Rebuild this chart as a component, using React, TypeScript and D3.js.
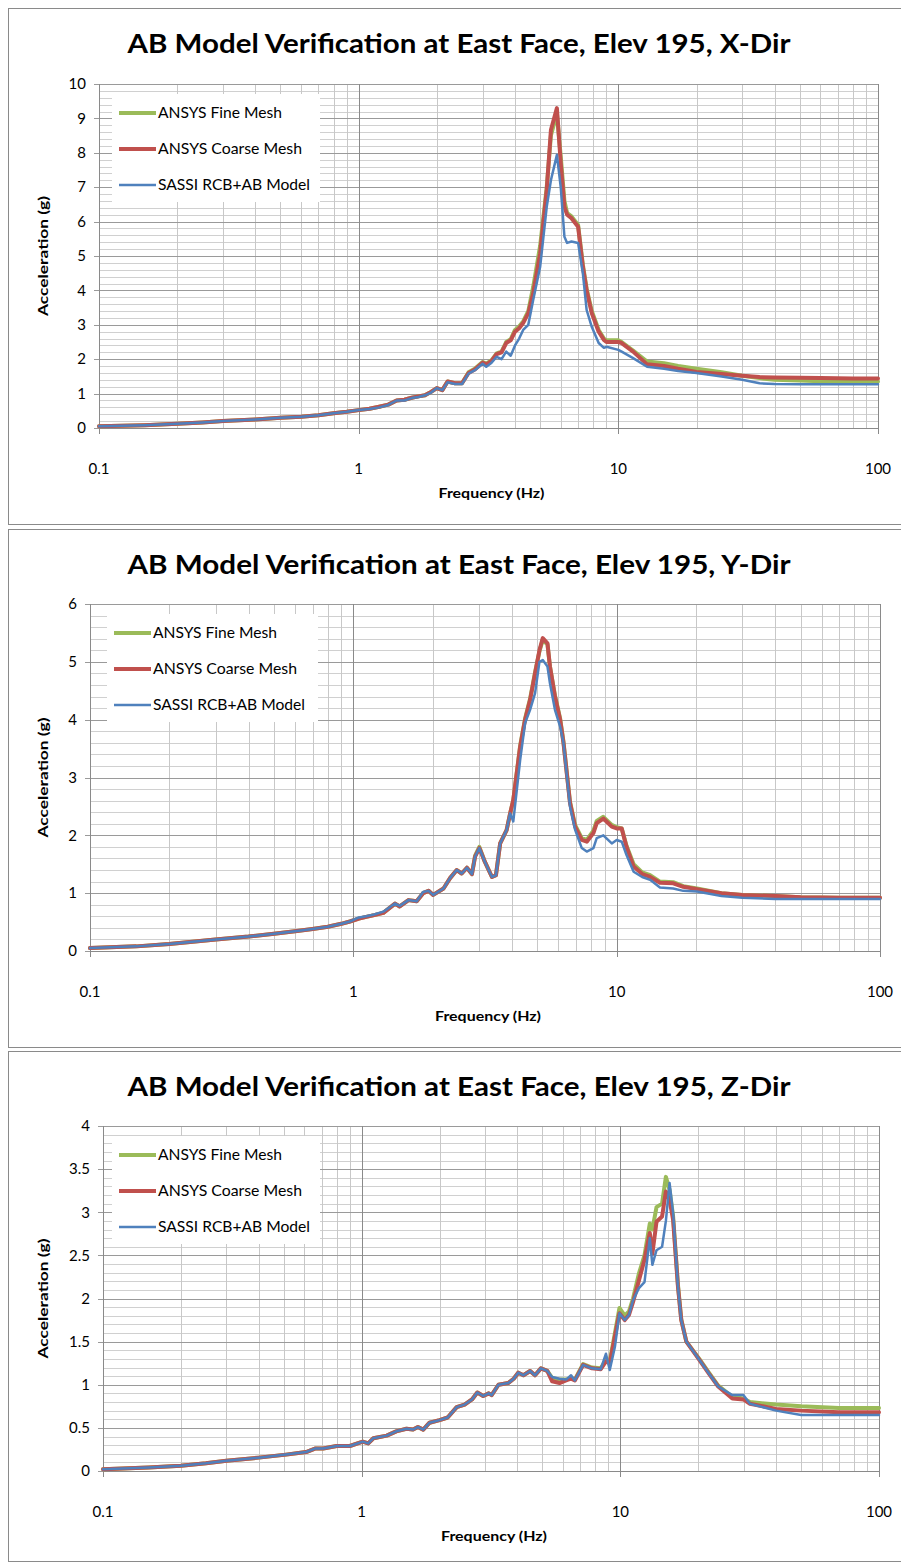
import React from "react";
import * as d3 from "d3";

const SERIES_NAMES = ["ANSYS Fine Mesh", "ANSYS Coarse Mesh", "SASSI RCB+AB Model"];
const SERIES_COLORS = ["#9BBB59", "#C0504D", "#4F81BD"];
const X_TICKS = [0.1, 1, 10, 100];
const X_TICK_LABELS = ["0.1", "1", "10", "100"];

// ---------- X-Dir ----------
const FREQ_X = [0.1, 0.15, 0.2, 0.25, 0.3, 0.4, 0.5, 0.6, 0.7, 0.8, 0.9, 1.0, 1.1, 1.2, 1.3, 1.4, 1.5, 1.6, 1.7, 1.8, 1.9, 2.0, 2.1, 2.2, 2.35, 2.5, 2.65, 2.8, 3.0, 3.1, 3.25, 3.4, 3.55, 3.7, 3.85, 4.0, 4.15, 4.3, 4.5, 4.7, 5.0, 5.3, 5.5, 5.8, 6.0, 6.2, 6.35, 6.6, 7.0, 7.3, 7.55, 7.9, 8.4, 8.8, 9.0, 10, 10.3, 11.4, 12.9, 15, 17, 20, 25, 30, 35, 40, 50, 60, 80, 100];
const X_COARSE = [0.05, 0.08, 0.12, 0.16, 0.2, 0.25, 0.3, 0.33, 0.37, 0.43, 0.47, 0.52, 0.56, 0.62, 0.68, 0.8, 0.82, 0.88, 0.92, 0.95, 1.05, 1.16, 1.1, 1.35, 1.3, 1.3, 1.6, 1.7, 1.9, 1.85, 1.95, 2.15, 2.2, 2.47, 2.55, 2.8, 2.9, 3.05, 3.34, 3.92, 5.08, 6.92, 8.66, 9.3, 7.7, 6.43, 6.2, 6.1, 5.85, 4.69, 4.0, 3.34, 2.8, 2.56, 2.5, 2.5, 2.47, 2.22, 1.85, 1.8, 1.72, 1.63, 1.57, 1.52, 1.48, 1.47, 1.46, 1.45, 1.44, 1.44];
const X_FINE = [0.05, 0.08, 0.12, 0.16, 0.2, 0.25, 0.3, 0.33, 0.37, 0.43, 0.47, 0.52, 0.56, 0.62, 0.68, 0.8, 0.82, 0.88, 0.92, 0.95, 1.05, 1.16, 1.1, 1.35, 1.3, 1.3, 1.62, 1.72, 1.92, 1.87, 1.97, 2.17, 2.22, 2.5, 2.58, 2.85, 2.95, 3.1, 3.4, 4.1, 5.3, 7.0, 8.5, 9.15, 7.9, 6.6, 6.25, 6.15, 5.9, 4.75, 4.05, 3.4, 2.85, 2.6, 2.55, 2.55, 2.5, 2.25, 1.93, 1.88, 1.8, 1.72, 1.62, 1.52, 1.45, 1.4, 1.38, 1.36, 1.35, 1.35];
const X_SASSI = [0.05, 0.08, 0.12, 0.16, 0.2, 0.25, 0.3, 0.33, 0.37, 0.43, 0.47, 0.52, 0.55, 0.6, 0.67, 0.8, 0.8, 0.87, 0.9, 0.95, 1.03, 1.16, 1.1, 1.33, 1.28, 1.28, 1.58, 1.68, 1.87, 1.78, 1.9, 2.07, 2.0, 2.22, 2.1, 2.4, 2.6, 2.85, 3.0, 3.72, 4.69, 6.43, 7.2, 7.94, 7.0, 5.56, 5.38, 5.42, 5.38, 4.5, 3.43, 2.94, 2.47, 2.33, 2.36, 2.27, 2.22, 2.03, 1.78, 1.72, 1.66, 1.6, 1.5, 1.4, 1.3, 1.28, 1.27, 1.27, 1.27, 1.27];

// ---------- Y-Dir ----------
const FREQ_Y = [0.1, 0.15, 0.2, 0.3, 0.4, 0.5, 0.6, 0.7, 0.8, 0.9, 0.97, 1.05, 1.12, 1.2, 1.3, 1.44, 1.5, 1.62, 1.74, 1.84, 1.93, 2.01, 2.2, 2.33, 2.47, 2.58, 2.7, 2.82, 2.9, 3.01, 3.16, 3.36, 3.48, 3.61, 3.82, 3.94, 4.05, 4.3, 4.49, 4.69, 4.9, 5.09, 5.24, 5.46, 5.58, 5.83, 6.1, 6.28, 6.65, 6.95, 7.37, 7.7, 8.16, 8.4, 8.9, 9.58, 10, 10.45, 10.9, 11.6, 12.5, 13.4, 14.6, 16.4, 17.9, 20.2, 25, 30, 40, 50, 70, 100];
const Y_COARSE = [0.05, 0.08, 0.12, 0.2, 0.25, 0.3, 0.34, 0.38, 0.42, 0.47, 0.51, 0.56, 0.59, 0.62, 0.66, 0.82, 0.77, 0.88, 0.86, 1.0, 1.04, 0.97, 1.08, 1.26, 1.4, 1.34, 1.44, 1.33, 1.63, 1.78, 1.54, 1.28, 1.31, 1.86, 2.09, 2.38, 2.61, 3.53, 4.0, 4.34, 4.8, 5.2, 5.41, 5.32, 4.92, 4.4, 4.0, 3.6, 2.56, 2.15, 1.92, 1.89, 2.04, 2.21, 2.29, 2.15, 2.12, 2.12, 1.8, 1.46, 1.33, 1.28, 1.18, 1.17, 1.11, 1.07, 1.0, 0.97, 0.95, 0.93, 0.92, 0.92];
const Y_FINE = [0.05, 0.08, 0.12, 0.2, 0.25, 0.3, 0.34, 0.38, 0.42, 0.47, 0.51, 0.56, 0.59, 0.62, 0.66, 0.82, 0.77, 0.88, 0.86, 1.0, 1.04, 0.97, 1.08, 1.26, 1.4, 1.34, 1.44, 1.33, 1.65, 1.8, 1.54, 1.28, 1.31, 1.86, 2.09, 2.38, 2.61, 3.55, 4.02, 4.36, 4.82, 5.18, 5.38, 5.3, 4.92, 4.42, 4.02, 3.62, 2.58, 2.18, 1.95, 1.92, 2.08, 2.25, 2.32, 2.18, 2.14, 2.12, 1.82, 1.5, 1.36, 1.31, 1.2, 1.19, 1.12, 1.08, 1.0, 0.97, 0.95, 0.93, 0.92, 0.92];
const Y_SASSI = [0.05, 0.08, 0.12, 0.2, 0.25, 0.3, 0.34, 0.38, 0.42, 0.47, 0.51, 0.58, 0.6, 0.63, 0.68, 0.82, 0.78, 0.88, 0.86, 1.02, 1.04, 0.97, 1.08, 1.26, 1.4, 1.34, 1.44, 1.33, 1.63, 1.78, 1.54, 1.28, 1.31, 1.86, 2.09, 2.38, 2.24, 3.3, 3.94, 4.17, 4.46, 5.0, 5.03, 4.92, 4.63, 4.17, 3.88, 3.6, 2.5, 2.1, 1.78, 1.72, 1.78, 1.95, 2.0, 1.86, 1.92, 1.89, 1.66, 1.37, 1.28, 1.23, 1.1, 1.08, 1.04, 1.03, 0.95, 0.92, 0.9, 0.9, 0.9, 0.9];

// ---------- Z-Dir ----------
const FREQ_Z = [0.1, 0.15, 0.2, 0.25, 0.3, 0.4, 0.51, 0.61, 0.66, 0.71, 0.8, 0.9, 1.01, 1.06, 1.11, 1.25, 1.36, 1.49, 1.58, 1.65, 1.73, 1.83, 2.0, 2.15, 2.33, 2.5, 2.67, 2.8, 2.95, 3.1, 3.18, 3.38, 3.69, 3.87, 4.03, 4.22, 4.48, 4.68, 4.93, 5.22, 5.45, 5.82, 6.17, 6.45, 6.67, 7.18, 7.77, 8.4, 8.8, 9.1, 9.53, 9.92, 10.4, 10.8, 11.2, 11.8, 12.4, 13.0, 13.3, 13.8, 14.5, 15.0, 15.5, 16.0, 16.7, 17.2, 18.0, 20.2, 22.0, 23.9, 27.1, 29.9, 31.7, 40, 50, 70, 100];
const Z_COARSE = [0.02, 0.04, 0.06, 0.09, 0.12, 0.155, 0.19, 0.22, 0.26, 0.26, 0.29, 0.29, 0.34, 0.32, 0.38, 0.41, 0.46, 0.49, 0.48, 0.51, 0.48, 0.56, 0.59, 0.62, 0.74, 0.77, 0.83, 0.91, 0.87, 0.9, 0.88, 1.0, 1.02, 1.07, 1.14, 1.11, 1.16, 1.11, 1.19, 1.16, 1.04, 1.02, 1.05, 1.07, 1.05, 1.23, 1.19, 1.18, 1.27, 1.25, 1.56, 1.83, 1.75, 1.81, 1.96, 2.21, 2.45, 2.76, 2.52, 2.89, 2.95, 3.24, 3.14, 2.91, 2.14, 1.75, 1.5, 1.29, 1.13, 0.98, 0.84, 0.83, 0.78, 0.72, 0.7, 0.68, 0.68];
const Z_FINE = [0.02, 0.04, 0.06, 0.09, 0.12, 0.155, 0.19, 0.22, 0.26, 0.26, 0.29, 0.29, 0.34, 0.32, 0.38, 0.41, 0.46, 0.49, 0.48, 0.51, 0.48, 0.56, 0.59, 0.62, 0.74, 0.77, 0.83, 0.91, 0.87, 0.9, 0.88, 1.0, 1.02, 1.07, 1.14, 1.11, 1.16, 1.11, 1.19, 1.16, 1.08, 1.06, 1.06, 1.08, 1.06, 1.24, 1.2, 1.19, 1.29, 1.27, 1.6, 1.89, 1.8, 1.85, 2.0, 2.29, 2.5, 2.87, 2.8, 3.06, 3.1, 3.41, 3.26, 2.95, 2.16, 1.76, 1.5, 1.3, 1.14, 0.99, 0.86, 0.84, 0.8, 0.77, 0.75, 0.73, 0.73];
const Z_SASSI = [0.02, 0.04, 0.06, 0.09, 0.12, 0.155, 0.19, 0.22, 0.26, 0.26, 0.29, 0.29, 0.34, 0.32, 0.38, 0.41, 0.46, 0.49, 0.48, 0.51, 0.48, 0.56, 0.59, 0.62, 0.74, 0.77, 0.83, 0.91, 0.87, 0.9, 0.88, 1.0, 1.02, 1.07, 1.14, 1.11, 1.16, 1.11, 1.19, 1.16, 1.09, 1.07, 1.06, 1.11, 1.05, 1.23, 1.19, 1.18, 1.36, 1.17, 1.44, 1.83, 1.75, 1.81, 1.98, 2.12, 2.19, 2.7, 2.39, 2.56, 2.6, 2.9, 3.34, 2.99, 2.14, 1.75, 1.5, 1.29, 1.13, 0.98, 0.88, 0.88, 0.78, 0.7, 0.65, 0.65, 0.65];

const Y_LABELS_X = ["0", "1", "2", "3", "4", "5", "6", "7", "8", "9", "10"];
const Y_LABELS_Y = ["0", "1", "2", "3", "4", "5", "6"];
const Y_LABELS_Z = ["0", "0.5", "1", "1.5", "2", "2.5", "3", "3.5", "4"];

const PANELS = [
  {
    title: "AB Model Verification at East Face, Elev 195, X-Dir",
    freq: FREQ_X, series: [X_FINE, X_COARSE, X_SASSI],
    yMax: 10, yStep: 1, yMinor: 0.2, yLabels: Y_LABELS_X,
    box: [8, 524], plot: { l: 99, r: 878, t: 84, b: 428 }, titleY: 53, legendX: 112, legendR: 320,
  },
  {
    title: "AB Model Verification at East Face, Elev 195, Y-Dir",
    freq: FREQ_Y, series: [Y_FINE, Y_COARSE, Y_SASSI],
    yMax: 6, yStep: 1, yMinor: 0.2, yLabels: Y_LABELS_Y,
    box: [529, 1047], plot: { l: 90, r: 880, t: 604, b: 951 }, titleY: 574, legendX: 107, legendR: 318,
  },
  {
    title: "AB Model Verification at East Face, Elev 195, Z-Dir",
    freq: FREQ_Z, series: [Z_FINE, Z_COARSE, Z_SASSI],
    yMax: 4, yStep: 0.5, yMinor: 0.1, yLabels: Y_LABELS_Z,
    box: [1051, 1561], plot: { l: 103, r: 879, t: 1126, b: 1471 }, titleY: 1096, legendX: 112, legendR: 320,
  },
];

const FONT = "Lato, 'Open Sans', 'DejaVu Sans', sans-serif";
const WIDTHS = [4, 4, 2.5];
const LEGEND_LEN = [124, 144, 152];

function Panel({ p }: { p: any }) {
  const x = d3.scaleLog().domain([0.1, 100]).range([p.plot.l, p.plot.r]);
  const y = d3.scaleLinear().domain([0, p.yMax]).range([p.plot.b, p.plot.t]);
  const minorX: number[] = [];
  [0.1, 1, 10].forEach((d) => {
    for (let k = 2; k <= 9; k++) minorX.push(d * k);
  });
  const nMinor = Math.round(p.yMax / p.yMinor);
  const minorY = d3.range(0, nMinor + 1).map((i) => i * p.yMinor);
  const majorY = p.yLabels.map((_: string, i: number) => i * p.yStep);
  const isMajorY = (v: number) => majorY.some((m: number) => Math.abs(m - v) < 1e-6);
  const line = d3
    .line<[number, number]>()
    .x((d) => x(d[0]))
    .y((d) => y(d[1]));
  const cx = (p.plot.l + p.plot.r) / 2;
  const cy = (p.plot.t + p.plot.b) / 2;
  const lt = p.plot.t + 10;
  return (
    <g>
      <rect x={8.5} y={p.box[0] + 0.5} width={893} height={p.box[1] - p.box[0]} fill="#fff" stroke="#8a8a8a" strokeWidth={1} />
      <text x={459} y={p.titleY} textAnchor="middle" fontFamily={FONT} fontWeight="bold" fontSize={27} textLength={663} lengthAdjust="spacingAndGlyphs" fill="#000">
        {p.title}
      </text>
      {minorY.filter((v: number) => !isMajorY(v)).map((v: number, i: number) => (
        <line key={"hy" + i} x1={p.plot.l} x2={p.plot.r} y1={Math.round(y(v)) + 0.5} y2={Math.round(y(v)) + 0.5} stroke="#d0d0d0" strokeWidth={1} />
      ))}
      {minorX.map((v, i) => (
        <line key={"vx" + i} x1={Math.round(x(v)) + 0.5} x2={Math.round(x(v)) + 0.5} y1={p.plot.t} y2={p.plot.b} stroke="#c8c8c8" strokeWidth={1} />
      ))}
      {majorY.map((v: number, i: number) => (
        <line key={"My" + i} x1={p.plot.l - 5} x2={p.plot.r} y1={Math.round(y(v)) + 0.5} y2={Math.round(y(v)) + 0.5} stroke="#9a9a9a" strokeWidth={1} />
      ))}
      {X_TICKS.map((v, i) => (
        <line key={"Mx" + i} x1={Math.round(x(v)) + 0.5} x2={Math.round(x(v)) + 0.5} y1={p.plot.t} y2={p.plot.b + 6} stroke="#8a8a8a" strokeWidth={1} />
      ))}
      <line x1={p.plot.l + 0.5} x2={p.plot.l + 0.5} y1={p.plot.t} y2={p.plot.b} stroke="#8a8a8a" />
      <line x1={p.plot.l} x2={p.plot.r} y1={Math.round(p.plot.b) + 0.5} y2={Math.round(p.plot.b) + 0.5} stroke="#8a8a8a" />
      {p.yLabels.map((lab: string, i: number) => (
        <text key={"yl" + i} x={p.plot.l - 13} y={y(i * p.yStep)} dy="0.35em" textAnchor="end" fontFamily={FONT} fontSize={15} fill="#000">
          {lab}
        </text>
      ))}
      {X_TICKS.map((v, i) => (
        <text key={"xl" + i} x={x(v)} y={p.plot.b + 41} dy="0.35em" textAnchor="middle" fontFamily={FONT} fontSize={15} fill="#000">
          {X_TICK_LABELS[i]}
        </text>
      ))}
      <text x={cx + 3} y={p.plot.b + 65} dy="0.35em" textAnchor="middle" fontFamily={FONT} fontWeight="bold" fontSize={14} textLength={106} lengthAdjust="spacingAndGlyphs" fill="#000">
        Frequency (Hz)
      </text>
      <text transform={`translate(43,${cy}) rotate(-90)`} dy="0.35em" textAnchor="middle" fontFamily={FONT} fontWeight="bold" fontSize={14} textLength={120} lengthAdjust="spacingAndGlyphs" fill="#000">
        Acceleration (g)
      </text>
      {p.series.map((vals: number[], si: number) => (
        <path
          key={"s" + si}
          d={line(p.freq.map((f: number, i: number) => [f, vals[i]] as [number, number])) || ""}
          fill="none"
          stroke={SERIES_COLORS[si]}
          strokeWidth={WIDTHS[si]}
          strokeLinejoin="round"
          strokeLinecap="round"
        />
      ))}
      <rect x={p.legendX} y={lt} width={p.legendR - p.legendX} height={108} fill="#fff" />
      {SERIES_NAMES.map((name, i) => {
        const ly = lt + 19 + i * 36;
        return (
          <g key={"lg" + i}>
            <line x1={p.legendX + 7} x2={p.legendX + 44} y1={ly} y2={ly} stroke={SERIES_COLORS[i]} strokeWidth={WIDTHS[i]} />
            <text x={p.legendX + 46} y={ly} dy="0.35em" fontFamily={FONT} fontSize={15} textLength={LEGEND_LEN[i]} lengthAdjust="spacingAndGlyphs" fill="#000">
              {name}
            </text>
          </g>
        );
      })}
    </g>
  );
}

export default function App() {
  return (
    <svg width={901} height={1564} style={{ position: "absolute", left: 0, top: 0, background: "#fff" }}>
      <rect x={0} y={0} width={901} height={1564} fill="#fff" />
      {PANELS.map((p, i) => (
        <Panel key={i} p={p} />
      ))}
    </svg>
  );
}
